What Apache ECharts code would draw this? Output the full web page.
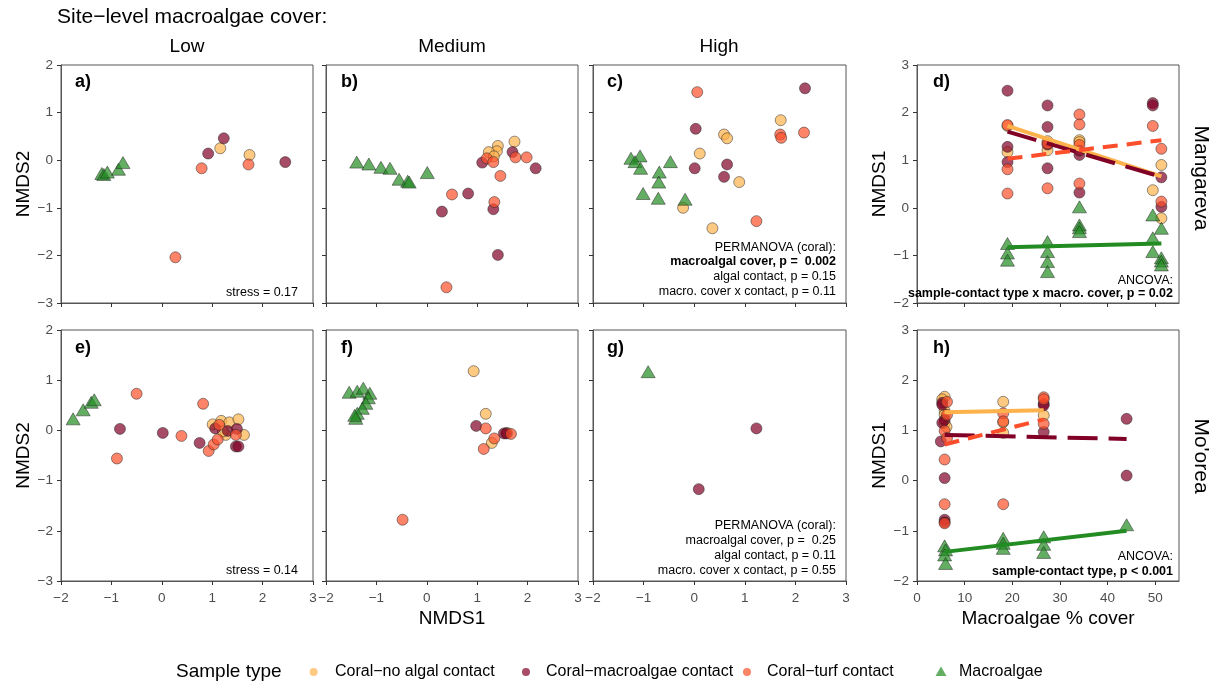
<!DOCTYPE html>
<html><head><meta charset="utf-8">
<script src="https://cdn.jsdelivr.net/npm/echarts@6/dist/echarts.min.js"></script>
<style>html,body{margin:0;padding:0;background:#fff}#c{width:1224px;height:684px}</style>
</head><body><div id="c"></div>
<script>
const FONT = "'Liberation Sans', Arial, Helvetica, sans-serif";
const sampleTypes = ['Coral\u2212no algal contact', 'Coral\u2212macroalgae contact', 'Coral\u2212turf contact', 'Macroalgae'];
const typeColors = ['#FEB24C', '#800026', '#FC4E2A', '#228B22'];
const coverLevels = ['Low', 'Medium', 'High'];
const islands = ['Mangareva', "Mo'orea"];
const nmdsXTicks = [-2, -1, 0, 1, 2, 3];
const nmdsYTicks = [-3, -2, -1, 0, 1, 2];
const fitYTicks = [-2, -1, 0, 1, 2, 3];
const coverTicks = [0, 10, 20, 30, 40, 50];

// ---- Panel a (Mangareva, low) ----
const a_noAlgal = [[1.16, 0.25], [1.74, 0.11]];
const a_macroContact = [[0.92, 0.14], [1.23, 0.46], [2.45, -0.04]];
const a_turf = [[0.79, -0.17], [1.72, -0.09], [0.27, -2.04]];
const a_macroalgae = [[-1.19, -0.28], [-1.15, -0.30], [-1.08, -0.25], [-0.86, -0.19], [-0.77, -0.05]];
// ---- Panel b (Mangareva, medium) ----
const b_noAlgal = [[1.74, 0.39], [1.41, 0.30], [1.39, 0.19], [1.23, 0.17], [1.33, 0.08]];
const b_macroContact = [[1.70, 0.17], [1.10, -0.05], [2.16, -0.17], [0.82, -0.70], [0.30, -1.08], [1.32, -1.03], [1.41, -1.99]];
const b_turf = [[1.19, 0.04], [1.32, -0.04], [1.76, 0.06], [1.98, 0.06], [1.46, -0.33], [0.50, -0.72], [1.34, -0.88], [0.39, -2.67]];
const b_macroalgae = [[-1.39, -0.04], [-1.15, -0.08], [-0.91, -0.15], [-0.73, -0.17], [-0.55, -0.40], [-0.38, -0.44], [-0.35, -0.46], [0.01, -0.26]];
// ---- Panel c (Mangareva, high) ----
const c_noAlgal = [[1.71, 0.84], [0.59, 0.54], [0.65, 0.46], [0.11, 0.14], [0.89, -0.46], [-0.22, -1.00], [0.36, -1.43]];
const c_macroContact = [[2.19, 1.51], [0.03, 0.66], [0.01, -0.17], [0.65, -0.09], [0.59, -0.35]];
const c_turf = [[0.06, 1.43], [1.70, 0.54], [1.72, 0.47], [2.17, 0.58], [1.23, -1.28]];
const c_macroalgae = [[-1.25, 0.04], [-1.07, 0.09], [-1.17, -0.03], [-1.06, -0.17], [-0.47, -0.03], [-0.69, -0.25], [-0.70, -0.46], [-1.01, -0.70], [-0.71, -0.80], [-0.18, -0.82]];
// ---- Panel e (Mo'orea, low) ----
const e_noAlgal = [[1.01, 0.12], [1.18, 0.19], [1.34, 0.16], [1.52, 0.22], [1.63, -0.09], [1.27, -0.09], [1.21, -0.02]];
const e_macroContact = [[-0.83, 0.03], [0.02, -0.05], [0.75, -0.25], [1.06, 0.04], [1.31, -0.01], [1.49, 0.03], [1.47, -0.32], [1.52, -0.32]];
const e_turf = [[-0.50, 0.73], [0.82, 0.53], [-0.89, -0.56], [0.39, -0.11], [0.93, -0.41], [1.03, -0.28], [1.11, -0.18], [1.14, 0.11], [1.47, -0.09]];
const e_macroalgae = [[-1.76, 0.23], [-1.56, 0.41], [-1.40, 0.56], [-1.34, 0.61]];
// ---- Panel f (Mo'orea, medium) ----
const f_noAlgal = [[0.93, 1.18], [1.17, 0.33], [1.29, -0.25], [1.59, -0.05]];
const f_macroContact = [[0.98, 0.09], [1.53, -0.06], [1.58, -0.06]];
const f_turf = [[1.17, 0.04], [1.34, -0.16], [1.13, -0.37], [1.67, -0.07], [-0.48, -1.78]];
const f_macroalgae = [[-1.54, 0.76], [-1.38, 0.78], [-1.26, 0.84], [-1.13, 0.74], [-1.16, 0.65], [-1.21, 0.54], [-1.28, 0.44], [-1.38, 0.34], [-1.41, 0.24], [-1.43, 0.30]];
// ---- Panel g (Mo'orea, high) ----
const g_noAlgal = [];
const g_macroContact = [[1.23, 0.04], [0.09, -1.17]];
const g_turf = [];
const g_macroalgae = [[-0.91, 1.17]];
// ---- Panel d (Mangareva, NMDS1 vs macroalgae % cover) ----
const d_noAlgal = [[19.0, 1.72], [19.0, 1.17], [27.4, 1.40], [27.4, 1.21], [34.1, 1.42], [34.1, 1.38], [51.3, 0.90], [49.5, 0.37], [51.3, -0.22]];
const d_macroContact = [[19.0, 2.46], [19.0, 1.28], [19.0, 0.96], [27.4, 2.15], [27.4, 1.70], [27.4, 1.33], [27.4, 0.83], [34.1, 1.11], [34.1, 1.20], [34.1, 0.32], [49.5, 2.20], [49.5, 2.15], [51.3, 0.64], [51.3, 0.02]];
const d_turf = [[19.0, 1.74], [19.0, 0.81], [19.0, 0.30], [27.4, 1.35], [27.4, 0.41], [34.1, 1.96], [34.1, 1.75], [34.1, 1.32], [34.1, 0.51], [49.5, 1.72], [51.3, 1.24], [51.3, 0.13]];
const d_macroalgae = [[19.0, -0.75], [19.0, -0.95], [19.0, -1.10], [27.4, -0.71], [27.4, -0.92], [27.4, -1.13], [27.4, -1.34], [34.1, 0.02], [34.1, -0.36], [34.1, -0.42], [34.1, -0.50], [49.5, -0.15], [51.3, -0.43], [49.5, -0.63], [49.5, -0.92], [51.3, -1.05], [51.3, -1.12], [51.3, -1.20]];
// ---- Panel h (Mo'orea, NMDS1 vs macroalgae % cover) ----
const h_noAlgal = [[5.8, 1.67], [5.3, 1.62], [5.8, 1.39], [5.8, 1.31], [5.8, 1.14], [6.2, 1.07], [18.1, 1.57], [18.1, 1.16], [18.1, 0.95], [26.6, 1.30]];
const h_macroContact = [[5.3, 1.55], [5.3, 1.51], [5.8, 1.21], [5.3, 1.15], [5.0, 0.78], [5.8, 0.05], [5.8, -0.78], [5.8, -0.83], [26.6, 1.53], [26.6, 1.50], [26.6, 0.97], [44.0, 1.23], [44.0, 0.10]];
const h_turf = [[6.3, 1.57], [6.3, 1.31], [5.8, 0.99], [6.3, 0.85], [5.8, 0.42], [5.8, -0.47], [5.8, -0.85], [18.1, 1.34], [18.1, 1.18], [18.1, -0.47], [26.6, 1.66], [26.6, 1.62], [26.6, 1.13]];
const h_macroalgae = [[5.8, -1.30], [6.0, -1.38], [5.8, -1.48], [6.0, -1.65], [18.1, -1.15], [18.1, -1.25], [18.1, -1.35], [26.6, -1.12], [26.6, -1.27], [26.6, -1.43], [44.0, -0.88]];
// ---- Fitted lines (ANCOVA) ----
const d_fit_noAlgal = [[19.0, 1.72], [51.3, 0.66]];
const d_fit_macroContact = [[19.0, 1.60], [51.3, 0.65]];
const d_fit_turf = [[19.0, 1.03], [51.3, 1.42]];
const d_fit_macroalgae = [[19.0, -0.83], [51.3, -0.75]];
const h_fit_noAlgal = [[5.8, 1.36], [26.6, 1.40]];
const h_fit_macroContact = [[5.8, 0.91], [44.0, 0.83]];
const h_fit_turf = [[5.8, 0.72], [26.6, 1.22]];
const h_fit_macroalgae = [[5.8, -1.42], [44.0, -1.00]];

const panelData = [
  [a_noAlgal, a_macroContact, a_turf, a_macroalgae],
  [b_noAlgal, b_macroContact, b_turf, b_macroalgae],
  [c_noAlgal, c_macroContact, c_turf, c_macroalgae],
  [d_noAlgal, d_macroContact, d_turf, d_macroalgae],
  [e_noAlgal, e_macroContact, e_turf, e_macroalgae],
  [f_noAlgal, f_macroContact, f_turf, f_macroalgae],
  [g_noAlgal, g_macroContact, g_turf, g_macroalgae],
  [h_noAlgal, h_macroContact, h_turf, h_macroalgae]
];
const fitData = [
  [3, [d_fit_noAlgal, d_fit_macroContact, d_fit_turf, d_fit_macroalgae]],
  [7, [h_fit_noAlgal, h_fit_macroContact, h_fit_turf, h_fit_macroalgae]]
];
const fitDash = ['solid', [30, 11], [15, 9], 'solid'];

// ---- layout ----
const grids = [
  {left: 61, top: 65, width: 252, height: 238},
  {left: 326, top: 65, width: 252, height: 238},
  {left: 593, top: 65, width: 253, height: 238},
  {left: 917, top: 65, width: 262, height: 238},
  {left: 61, top: 330, width: 252, height: 251},
  {left: 326, top: 330, width: 252, height: 251},
  {left: 593, top: 330, width: 253, height: 251},
  {left: 917, top: 330, width: 262, height: 251}
].map(g => Object.assign(g, {show: true, borderColor: '#555', borderWidth: 1, backgroundColor: '#fff'}));

const minus = v => String(v).replace('-', '\u2212');
const tickColor = '#333';
function axisBase(gi, min, max, interval, ticks, showLabels, margin) {
  return {
    type: 'value', gridIndex: gi, min: min, max: max, interval: interval,
    axisLine: {show: true, onZero: false, lineStyle: {color: '#555', width: 1}},
    axisTick: {show: true, length: 4, lineStyle: {color: tickColor, width: 1}, customValues: ticks},
    axisLabel: {show: showLabels, formatter: minus, color: '#4d4d4d', fontSize: 13.5, fontFamily: FONT, margin: margin, customValues: ticks},
    splitLine: {show: false},
    nameTextStyle: {fontSize: 19, fontFamily: FONT, color: '#000'}
  };
}
const xAxes = [], yAxes = [];
for (let i = 0; i < 8; i++) {
  const isFit = (i === 3 || i === 7);
  const bottom = i >= 4;
  const x = isFit ? axisBase(i, 0, 55, 10, coverTicks, bottom, 10) : axisBase(i, -2, 3, 1, nmdsXTicks, bottom, 10);
  const y = isFit ? axisBase(i, -2, 3, 1, fitYTicks, true, 8) : axisBase(i, -3, 2, 1, nmdsYTicks, i === 0 || i === 4, 8);
  x.position = 'bottom'; y.position = 'left';
  if (i === 5) { x.name = 'NMDS1'; x.nameLocation = 'middle'; x.nameGap = 28; }
  if (i === 7) { x.name = 'Macroalgae % cover'; x.nameLocation = 'middle'; x.nameGap = 28; }
  if (i === 0 || i === 4) { y.name = 'NMDS2'; y.nameLocation = 'middle'; y.nameGap = 21; }
  if (isFit) { y.name = 'NMDS1'; y.nameLocation = 'middle'; y.nameGap = 25; }
  xAxes.push(x); yAxes.push(y);
}

const series = [];
panelData.forEach((types, gi) => {
  types.forEach((pts, t) => {
    series.push({
      type: 'scatter', name: sampleTypes[t], xAxisIndex: gi, yAxisIndex: gi,
      data: pts, symbol: t === 3 ? 'triangle' : 'circle', symbolSize: t === 3 ? [14, 12] : 11,
      itemStyle: {color: typeColors[t], opacity: 0.7, borderColor: '#222', borderWidth: 0.7},
      z: 2, silent: true, animation: false
    });
  });
});
fitData.forEach(([gi, lines]) => {
  lines.forEach((pts, t) => {
    series.push({
      type: 'line', name: 'fit ' + gi + '-' + t, xAxisIndex: gi, yAxisIndex: gi,
      data: pts, symbol: 'none', showSymbol: false,
      lineStyle: {color: typeColors[t], width: 4, type: fitDash[t], cap: 'butt'},
      z: 5, silent: true, animation: false
    });
  });
});

function txt(text, x, y, size, opts) {
  opts = opts || {};
  return {
    type: 'text', x: x, y: y, rotation: opts.rotation || 0, z: 100, silent: true,
    style: {text: text, fontSize: size, fontFamily: FONT, fontWeight: opts.bold ? 'bold' : 'normal',
      fill: '#000', align: opts.align || 'left', verticalAlign: 'middle'}
  };
}
// legend (drawn as graphic keys)
const legendY = 672;
const legendMarkerX = [313.6, 526, 747, 941];
const legendTextX = [335, 546, 767, 959];
const legendGraphics = [];
sampleTypes.forEach((name, i) => {
  if (i === 3) {
    legendGraphics.push({type: 'polygon', silent: true, z: 100,
      shape: {points: [[legendMarkerX[i], legendY - 5.5], [legendMarkerX[i] + 5.5, legendY + 4], [legendMarkerX[i] - 5.5, legendY + 4]]},
      style: {fill: typeColors[i], opacity: 0.7}});
  } else {
    legendGraphics.push({type: 'circle', silent: true, z: 100,
      shape: {cx: legendMarkerX[i], cy: legendY, r: 4},
      style: {fill: typeColors[i], opacity: 0.7}});
  }
  legendGraphics.push(txt(name, legendTextX[i], legendY, 16));
});

const graphics = [
  txt('Site\u2212level macroalgae cover:', 57, 17, 21),
  txt(coverLevels[0], 187, 47, 19, {align: 'center'}),
  txt(coverLevels[1], 452, 47, 19, {align: 'center'}),
  txt(coverLevels[2], 719, 47, 19, {align: 'center'}),
  txt(islands[0], 1201, 178, 21, {align: 'center', rotation: -Math.PI / 2}),
  txt(islands[1], 1201, 456, 21, {align: 'center', rotation: -Math.PI / 2}),
  txt('a)', 75, 82, 18, {bold: true}),
  txt('b)', 341, 82, 18, {bold: true}),
  txt('c)', 607, 82, 18, {bold: true}),
  txt('d)', 933, 82, 18, {bold: true}),
  txt('e)', 75, 348, 18, {bold: true}),
  txt('f)', 341, 348, 18, {bold: true}),
  txt('g)', 607, 348, 18, {bold: true}),
  txt('h)', 933, 348, 18, {bold: true}),
  txt('stress = 0.17', 298, 293, 12.5, {align: 'right'}),
  txt('stress = 0.14', 298, 571, 12.5, {align: 'right'}),
  txt('PERMANOVA (coral):', 836, 248, 12.5, {align: 'right'}),
  txt('macroalgal cover, p =  0.002', 836, 262, 12.5, {align: 'right', bold: true}),
  txt('algal contact, p = 0.15', 836, 277, 12.5, {align: 'right'}),
  txt('macro. cover x contact, p = 0.11', 836, 292, 12.5, {align: 'right'}),
  txt('PERMANOVA (coral):', 836, 526, 12.5, {align: 'right'}),
  txt('macroalgal cover, p =  0.25', 836, 541, 12.5, {align: 'right'}),
  txt('algal contact, p = 0.11', 836, 556, 12.5, {align: 'right'}),
  txt('macro. cover x contact, p = 0.55', 836, 571, 12.5, {align: 'right'}),
  txt('ANCOVA:', 1173, 281, 12.5, {align: 'right'}),
  txt('sample-contact type x macro. cover, p = 0.02', 1173, 294, 12.5, {align: 'right', bold: true}),
  txt('ANCOVA:', 1173, 557, 12.5, {align: 'right'}),
  txt('sample-contact type, p < 0.001', 1173, 572, 12.5, {align: 'right', bold: true}),
  txt('Sample type', 176, 672, 19)
].concat(legendGraphics);

const chart = echarts.init(document.getElementById('c'), null, {renderer: 'canvas'});
chart.setOption({
  animation: false,
  backgroundColor: '#fff',
  grid: grids,
  xAxis: xAxes,
  yAxis: yAxes,
  series: series,
  graphic: graphics
});
</script></body></html>
